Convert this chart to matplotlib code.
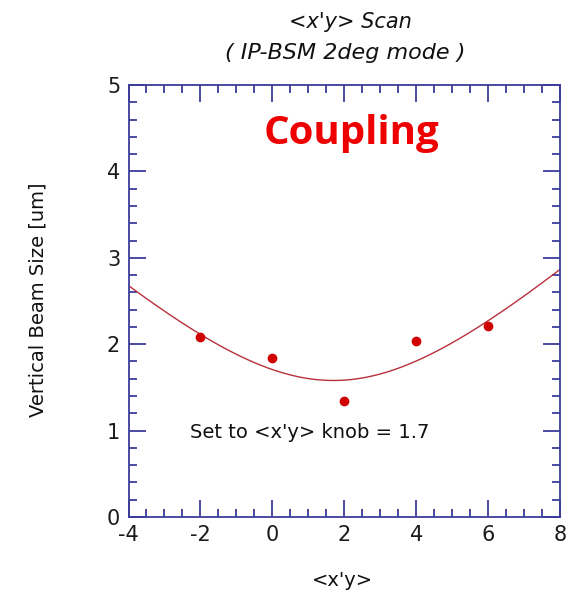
import numpy as np
import matplotlib
matplotlib.use("Agg")
import matplotlib.pyplot as plt
from matplotlib.ticker import MultipleLocator

plt.rcParams["axes.unicode_minus"] = False

# Data
knob_x = [-2, 0, 2, 4, 6]
beam_size = [2.08, 1.84, 1.34, 2.04, 2.21]

# Fit curve parameters: sigma = sqrt(s0^2 + k (x - x0)^2)
fit_x0 = 1.7
fit_s0 = 1.58
fit_k = 0.144

title_lines = ["<x'y> Scan", "( IP-BSM 2deg mode )"]
x_label = "<x'y>"
y_label = "Vertical Beam Size [um]"
note = "Set to <x'y> knob = 1.7"
tag = "Coupling"

fig = plt.figure(figsize=(5.67, 5.93), dpi=100)
ax = fig.add_axes([128.5 / 567, 1 - 517 / 593, 431.5 / 567, 432 / 593])

xs = np.linspace(-4, 8, 300)
ys = np.sqrt(fit_s0 ** 2 + fit_k * (xs - fit_x0) ** 2)
ax.plot(xs, ys, color="#b8303c", lw=1.0, zorder=2)
ax.plot(knob_x, beam_size, "o", color="#d00000", ms=6, zorder=3)

ax.set_xlim(-4, 8)
ax.set_ylim(0, 5)
ax.xaxis.set_major_locator(MultipleLocator(2))
ax.xaxis.set_minor_locator(MultipleLocator(0.5))
ax.yaxis.set_major_locator(MultipleLocator(1))
ax.yaxis.set_minor_locator(MultipleLocator(0.2))

spine_c = "#3c3c9c"
for s in ax.spines.values():
    s.set_color(spine_c)
    s.set_linewidth(1.3)
ax.tick_params(which="both", direction="in", top=True, right=True, color=spine_c,
               width=1.3, labelsize=15, labelcolor="#1a1a1a")
ax.tick_params(which="major", length=12, pad=6)
ax.tick_params(which="minor", length=6)

fig.text(350 / 567, 1 - 22 / 593, title_lines[0], ha="center", va="center",
         fontsize=15, style="italic", color="#111111")
fig.text(345 / 567, 1 - 53 / 593, title_lines[1], ha="center", va="center",
         fontsize=16, style="italic", color="#111111")

fig.text(342 / 567, 1 - 580 / 593, x_label, ha="center", va="center",
         fontsize=14, color="#111111")
fig.text(38 / 567, 1 - 300 / 593, y_label, ha="center", va="center",
         rotation=90, fontsize=14, color="#111111")

fig.text(351 / 567, 1 - 133 / 593, tag, ha="center", va="center",
         fontsize=29, fontweight="bold", color="#ee0000", family="Open Sans")
fig.text(310 / 567, 1 - 432 / 593, note, ha="center", va="center",
         fontsize=14, color="#111111")

fig.savefig("out.png", dpi=100)
